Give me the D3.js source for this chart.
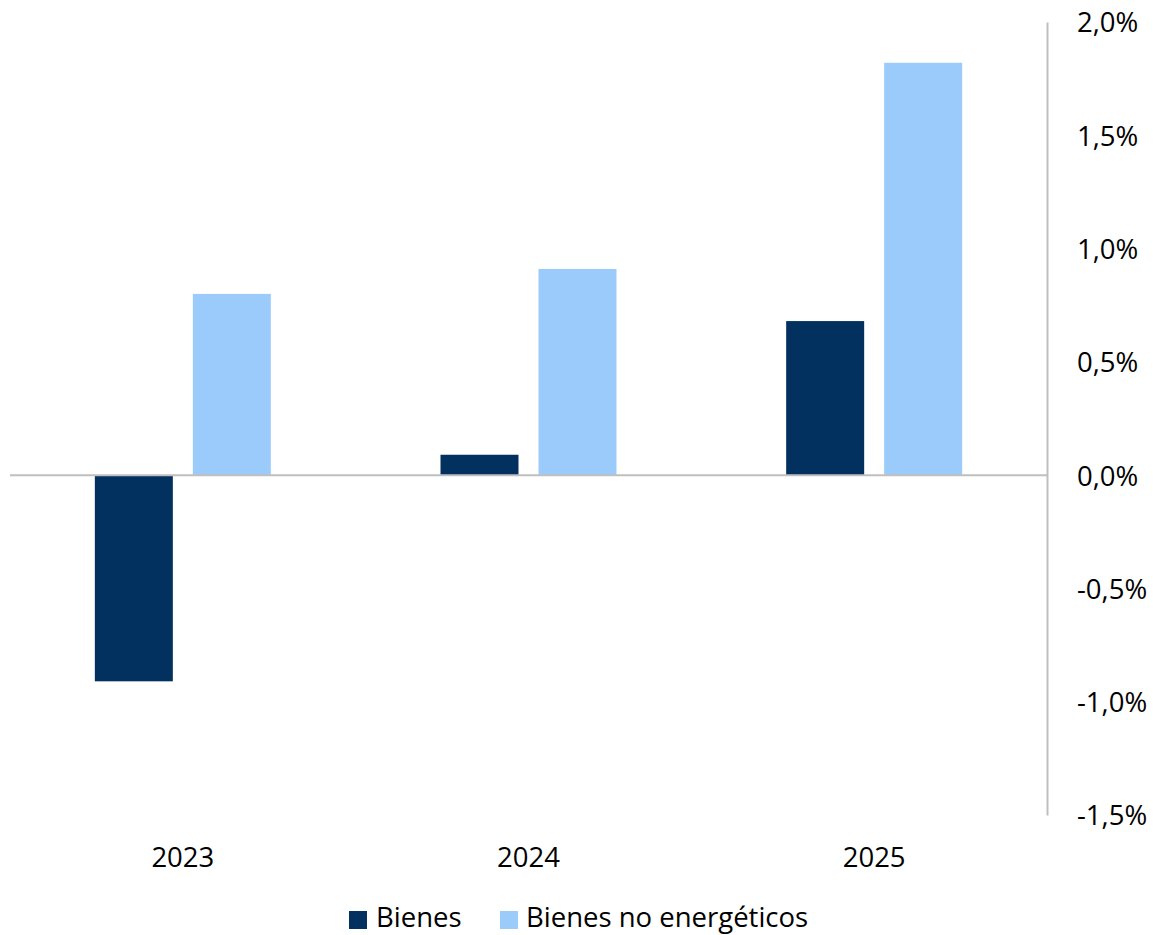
<!DOCTYPE html>
<html><head><meta charset="utf-8">
<script src="https://cdn.jsdelivr.net/npm/d3@7"></script>
<style>body{margin:0;background:#fff}svg{display:block}text{font-family:"Open Sans",sans-serif;fill:#000}</style>
</head><body><div id="c"></div>
<script>
const categories = ["2023","2024","2025"];
const seriesNames = ["Bienes","Bienes no energéticos"];
const bienes = [-0.91, 0.09, 0.68];
const noEnergeticos = [0.80, 0.91, 1.82];
const tickValues = [2.0,1.5,1.0,0.5,0.0,-0.5,-1.0,-1.5];
const colors = ["#03315f","#9bcbfb"];

(function(){
const W=1153,H=935,FS=27.5;
const svg=d3.select("#c").append("svg").attr("width",W).attr("height",H);
const mLeft=10,mRight=1047,mTop=22,mBottom=815;
const y=d3.scaleLinear().domain([-1.5,2.0]).range([mBottom,mTop]);
const x=d3.scaleBand().domain(categories).range([mLeft,mRight]).paddingInner(0).paddingOuter(0);
const x1=d3.scaleBand().domain(seriesNames).range([0,176]).paddingInner(20/98);
const data=categories.map((c,i)=>({c,vals:[bienes[i],noEnergeticos[i]]}));

const g=svg.append("g");
data.forEach(d=>{
  const off=x(d.c)+x.bandwidth()/2-88;
  d.vals.forEach((v,j)=>{
    g.append("rect").attr("x",off+x1(seriesNames[j])).attr("width",x1.bandwidth())
     .attr("y",y(Math.max(0,v))).attr("height",Math.abs(y(v)-y(0)))
     .attr("fill",colors[j]);
  });
});
svg.append("line").attr("x1",mLeft).attr("x2",mRight).attr("y1",y(0)).attr("y2",y(0)).attr("stroke","#bfbfbf").attr("stroke-width",2);
const fmt=v=>d3.format(".1f")(v).replace(".",",").replace("−","-")+"%";
const ax=svg.append("g").attr("transform",`translate(${mRight},0)`).call(d3.axisRight(y).tickValues(tickValues).tickSize(0).tickFormat(fmt));
ax.select(".domain").attr("stroke","#bfbfbf").attr("stroke-width",2);
ax.selectAll("text").attr("x",30).attr("dy","0.36em").attr("font-size",FS).style("font-family","'Open Sans',sans-serif").attr("fill","#000");
svg.append("g").selectAll("text").data(categories).join("text")
  .attr("x",d=>x(d)+x.bandwidth()/2).attr("y",867).attr("text-anchor","middle").attr("font-size",FS).text(d=>d);
const lg=svg.append("g");
const items=[{x:349,tx:376},{x:500,tx:526}];
seriesNames.forEach((s,i)=>{
  lg.append("rect").attr("x",items[i].x).attr("y",911).attr("width",18).attr("height",18).attr("fill",colors[i]);
  lg.append("text").attr("x",items[i].tx).attr("y",927).attr("font-size",FS).text(s);
});
})();
</script></body></html>
